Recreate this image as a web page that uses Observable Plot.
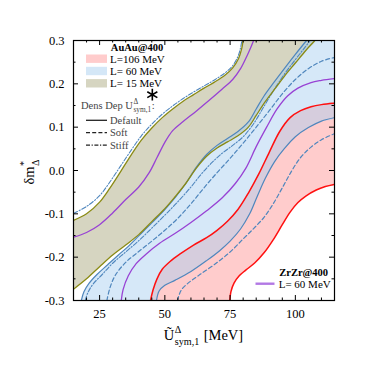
<!DOCTYPE html>
<html><head><meta charset="utf-8">
<script src="https://cdn.jsdelivr.net/npm/d3@7"></script>
<script src="https://cdn.jsdelivr.net/npm/@observablehq/plot@0.6"></script>
<style>body{margin:0;background:#fff} svg{display:block}</style>
</head><body><div id="chart"></div>
<script>
// ---- axes ----
const xDomain = [15, 115], yDomain = [-0.3, 0.3];
const xTicks = [25, 50, 75, 100];
const xTickLabels = ["25", "50", "75", "100"];
const xMinor = [20, 30, 35, 40, 45, 55, 60, 65, 70, 80, 85, 90, 95, 105, 110];
const yTicks = [-0.3, -0.2, -0.1, 0, 0.1, 0.2, 0.3];
const yTickLabels = ["-0.3", "-0.2", "-0.1", "0.0", "0.1", "0.2", "0.3"];
const yMinor = [-0.25, -0.15, -0.05, 0.05, 0.15, 0.25];

// ---- AuAu@400, L=106 MeV (default) ----
const l106Upper = [[44.5,-0.30],[45.5,-0.275],[47,-0.25],[49,-0.228],[52,-0.21],[56,-0.192],[61,-0.172],[66,-0.155],[70,-0.138],[74,-0.117],[78,-0.09],[82,-0.052],[86,-0.008],[90,0.042],[94,0.09],[98,0.122],[102,0.138],[106,0.147],[110,0.152],[115,0.155]];
const l106Lower = [[74.9,-0.30],[75.3,-0.28],[76.5,-0.26],[78.5,-0.243],[81,-0.23],[84.5,-0.213],[88,-0.19],[91.5,-0.16],[95,-0.125],[98,-0.096],[101,-0.074],[104,-0.059],[108,-0.045],[111.5,-0.037],[115,-0.032]];

// ---- AuAu@400, L=60 MeV ----
const l60Upper = [[18,-0.30],[19,-0.28],[21,-0.26],[24,-0.24],[28,-0.218],[32,-0.196],[36,-0.175],[40,-0.151],[45,-0.121],[50,-0.09],[54,-0.062],[58,-0.03],[62,0.007],[66,0.037],[70,0.058],[74,0.074],[78,0.09],[82,0.112],[85,0.142],[88,0.172],[92,0.205],[96,0.237],[100,0.268],[104.3,0.30]];
const l60Lower = [[46.8,-0.30],[47.8,-0.278],[50,-0.265],[54,-0.253],[60,-0.233],[66,-0.208],[71,-0.185],[75,-0.163],[79,-0.135],[82.5,-0.1],[85.5,-0.058],[88.5,-0.018],[92,0.02],[96,0.052],[100,0.078],[105,0.099],[110,0.114],[115,0.122]];
const l60SoftUpper = [[27.8,-0.30],[29,-0.27],[31,-0.242],[35,-0.212],[40,-0.187],[45,-0.163],[50,-0.138],[55,-0.11],[60,-0.077],[65,-0.04],[70,-0.005],[75,0.028],[80,0.063],[85,0.1],[90,0.138],[95,0.177],[100,0.21],[105,0.235],[110,0.252],[115,0.261]];
const l60SoftLower = [[54.8,-0.30],[56.2,-0.277],[58.5,-0.262],[63,-0.242],[69,-0.217],[75,-0.188],[80,-0.158],[84,-0.134],[88,-0.108],[91.5,-0.077],[95,-0.04],[98.5,-0.002],[102,0.03],[106,0.054],[110,0.071],[115,0.085]];
const l60StiffUpper = [[15,-0.099],[20,-0.083],[25,-0.058],[29,-0.026],[33,0.01],[37,0.046],[41,0.08],[45,0.107],[49,0.13],[53,0.149],[57,0.166],[61,0.181],[65,0.195],[69,0.209],[73,0.225],[76,0.242],[78,0.263],[79,0.283],[79.5,0.30]];
const l60StiffLower = [[19.5,-0.30],[20.5,-0.282],[22.5,-0.262],[26,-0.24],[30,-0.214],[35,-0.188],[40,-0.162],[45,-0.133],[50,-0.103],[55,-0.072],[60,-0.038],[64,-0.008],[68,0.018],[72,0.04],[76,0.058],[80,0.078],[84,0.108],[88,0.148],[92,0.188],[96,0.224],[100,0.256],[103,0.279],[105.7,0.30]];

// ---- AuAu@400, L=15 MeV ----
const l15Upper = [[15,-0.115],[20,-0.1],[25,-0.073],[29,-0.04],[33,-0.003],[37,0.035],[41,0.07],[45,0.098],[49,0.122],[53,0.142],[57,0.16],[61,0.175],[65,0.19],[69,0.204],[73,0.22],[76,0.237],[78.2,0.258],[79.4,0.28],[80,0.30]];
const l15Lower = [[15,-0.274],[20,-0.25],[25,-0.222],[30,-0.195],[35,-0.172],[40,-0.148],[45,-0.118],[50,-0.088],[54,-0.06],[58,-0.03],[62,0.005],[66,0.033],[70,0.052],[74,0.066],[78,0.08],[82,0.1],[85,0.127],[88,0.155],[92,0.187],[96,0.219],[100,0.248],[104,0.277],[107.5,0.30]];

// ---- ZrZr@400, L=60 MeV ----
const zrUpper = [[15,-0.154],[20,-0.143],[25,-0.125],[30,-0.098],[35,-0.067],[40,-0.038],[44,-0.005],[47,0.03],[50,0.065],[53,0.092],[57,0.113],[62,0.137],[67,0.162],[72,0.188],[76,0.21],[79,0.235],[81.5,0.265],[83,0.285],[84,0.30]];
const zrLower = [[33.3,-0.30],[34,-0.275],[36,-0.243],[39,-0.215],[43,-0.192],[48,-0.168],[54,-0.145],[60,-0.12],[66,-0.093],[72,-0.063],[77,-0.03],[81,0.005],[85,0.055],[89,0.1],[93,0.142],[97,0.172],[101,0.19],[106,0.203],[110,0.208],[115,0.212]];

// reference point (asterisk)
const starX = [45.2], starY = [0.175];

// ---- colours ----
const C = {red: "#ff1010", pink: "#ffcccc", blueLine: "#4f86bd", blueFill: "rgb(168,206,240)",
  olive: "#8a8a14", oliveFill: "#d6d5c1", purple: "#9842d4", purpleLegend: "#b278e4", legendText: "#444"};

const F = "'Liberation Serif','DejaVu Serif',serif";
const corner = [xDomain[1], yDomain[1]];
const poly = (a, b, extra = []) => [...a, ...extra, ...b.slice().reverse()];
const X = d => d[0], Y = d => d[1];
const fw = 374 - 73 - 40, fh = 374 - 40 - 74;
const line = (data, stroke, w, dash) => Plot.line(data, {x: X, y: Y, stroke, strokeWidth: w, strokeDasharray: dash, curve: "catmull-rom", clip: true});

const chart = Plot.plot({
  width: 374, height: 374,
  marginLeft: 73, marginRight: 40, marginTop: 40, marginBottom: 74,
  style: `font-family:${F};font-size:12.5px;background:white;color:black;`,
  x: {domain: xDomain, ticks: xTicks, tickFormat: d => xTickLabels[xTicks.indexOf(d)], tickSize: 0, tickPadding: 9, label: null},
  y: {domain: yDomain, ticks: yTicks, tickFormat: d => yTickLabels[yTicks.indexOf(d)], tickSize: 0, tickPadding: 9, label: null},
  marks: [
    Plot.line(poly(l106Upper, l106Lower), {x: X, y: Y, fill: C.pink, stroke: "none", curve: "catmull-rom", clip: true}),
    Plot.line(poly(l15Upper, l15Lower), {x: X, y: Y, fill: C.oliveFill, stroke: "none", curve: "catmull-rom", clip: true}),
    Plot.line(poly(l60Upper, l60Lower, [corner]), {x: X, y: Y, fill: C.blueFill, fillOpacity: 0.47, stroke: "none", curve: "catmull-rom", clip: true}),
    line(l60SoftUpper, C.blueLine, 1.2, "4,2.6"),
    line(l60SoftLower, C.blueLine, 1.2, "4,2.6"),
    line(l60StiffUpper, C.blueLine, 1.1, "4.5,1.8,1.2,1.8"),
    line(l60StiffLower, C.blueLine, 1.1, "4.5,1.8,1.2,1.8"),
    line(l60Upper, C.blueLine, 1.2),
    line(l60Lower, C.blueLine, 1.2),
    line(l15Upper, C.olive, 1.3),
    line(l15Lower, C.olive, 1.3),
    line(zrUpper, C.purple, 1.3),
    line(zrLower, C.purple, 1.3),
    line(l106Upper, C.red, 1.5),
    line(l106Lower, C.red, 1.5),
    Plot.dot(starX.map((x, i) => [x, starY[i]]), {x: X, y: Y, symbol: "asterisk", r: 5.5, stroke: "black", strokeWidth: 1.6}),
    Plot.frame({stroke: "black", strokeWidth: 1.2}),
    Plot.ruleX(xTicks, {insetTop: fh - 5, stroke: "black"}),
    Plot.ruleX(xTicks, {insetBottom: fh - 5, stroke: "black"}),
    Plot.ruleX(xMinor, {insetTop: fh - 2.5, stroke: "black"}),
    Plot.ruleX(xMinor, {insetBottom: fh - 2.5, stroke: "black"}),
    Plot.ruleY(yTicks, {insetRight: fw - 5, stroke: "black"}),
    Plot.ruleY(yTicks, {insetLeft: fw - 5, stroke: "black"}),
    Plot.ruleY(yMinor, {insetRight: fw - 2.5, stroke: "black"}),
    Plot.ruleY(yMinor, {insetLeft: fw - 2.5, stroke: "black"})
  ]
});
document.getElementById("chart").appendChild(chart);

// ---- labels & legends ----
const svg = d3.select(chart);
function txt(parent, x, y, s, o = {}) {
  return parent.append("text").attr("x", x).attr("y", y)
    .attr("font-family", F).attr("font-size", o.size || 11).attr("font-weight", o.weight || "normal")
    .attr("fill", o.fill || "#000").attr("text-anchor", o.anchor || "start").style("white-space", "pre").text(s);
}
function rich(parent, main, sup, sub, tail, size, subOff = 0.36) {
  const g = parent.append("g");
  const t1 = txt(g, 0, 0, main, {size});
  const w1 = t1.node().getComputedTextLength() + 0.5;
  const ts = sup ? txt(g, w1, -size * 0.5, sup, {size: size * 0.7}) : null;
  const tb = sub ? txt(g, w1, size * subOff, sub, {size: size * 0.7}) : null;
  const w2 = Math.max(ts ? ts.node().getComputedTextLength() : 0, tb ? tb.node().getComputedTextLength() : 0);
  let W = w1 + w2;
  if (tail) { const tt = txt(g, W + size * 0.3, 0, tail, {size}); W += size * 0.3 + tt.node().getComputedTextLength(); }
  return {g, W};
}
// x label
const xl = rich(svg, "Ũ", "Δ", "sym,1", "[MeV]", 14.5);
xl.g.attr("transform", `translate(${203.5 - xl.W / 2},340)`);
// y label
const yl = rich(svg, "δm", "*", "Δ", null, 14.5);
yl.g.attr("transform", `translate(34,${172 + yl.W / 2}) rotate(-90)`);

// AuAu legend
txt(svg, 137, 50.5, "AuAu@400", {size: 10.5, weight: "bold", anchor: "middle"});
const fills = [C.pink, "#d4e7f7", C.oliveFill];
const fillLabels = ["L=106 MeV", "L= 60 MeV", "L= 15 MeV"];
fills.forEach((c, i) => {
  svg.append("rect").attr("x", 86).attr("y", 54.5 + i * 12.3).attr("width", 21).attr("height", 8.4).attr("fill", c);
  txt(svg, 110, 62.8 + i * 12.3, fillLabels[i], {size: 11});
});
// Dens Dep legend
const dd = svg.append("g").attr("transform", "translate(81,109.3)");
const ddr = rich(dd, "Dens Dep U", "Δ", "sym,1", null, 10.5, 0.28);
ddr.g.selectAll("text").attr("fill", C.legendText);
txt(dd, ddr.W + 0.5, 0, ":", {size: 10.5, fill: C.legendText});
const styles = [null, "4,2.2", "4,1.6,1.2,1.6"];
const styleLabels = ["Default", "Soft", "Stiff"];
styles.forEach((s, i) => {
  const yy = 120.3 + i * 12.4;
  svg.append("line").attr("x1", 86).attr("x2", 107).attr("y1", yy).attr("y2", yy)
    .attr("stroke", "#222").attr("stroke-width", 1.3).attr("stroke-dasharray", s);
  txt(svg, 110, yy + 3.6, styleLabels[i], {size: 10.5, fill: C.legendText});
});
// ZrZr legend
txt(svg, 303.7, 275.8, "ZrZr@400", {size: 10.5, weight: "bold", anchor: "middle"});
svg.append("line").attr("x1", 255.5).attr("x2", 274.5).attr("y1", 283.7).attr("y2", 283.7)
  .attr("stroke", C.purpleLegend).attr("stroke-width", 2.4);
txt(svg, 278.7, 287.6, "L= 60 MeV", {size: 11});
</script>
</body></html>
